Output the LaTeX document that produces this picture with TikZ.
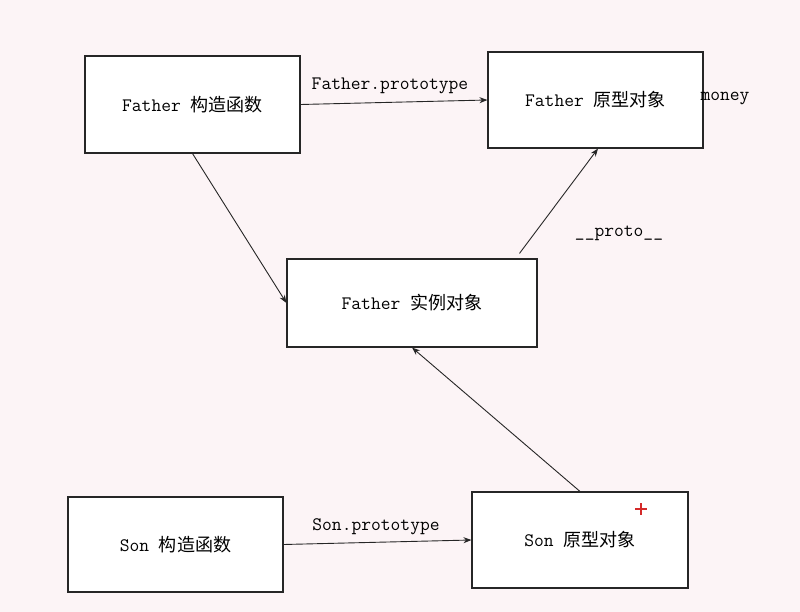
\documentclass[tikz,border=0pt]{standalone}
\usepackage{fontspec}
\newfontfamily\cjk{Noto Sans CJK SC}[Scale=0.95]
\usetikzlibrary{arrows.meta,calc}
\definecolor{paper}{HTML}{FCF4F6}
\definecolor{plusred}{HTML}{D42A2A}
\tikzset{
  box/.style={draw=black!85, line width=1.1pt, fill=white, inner sep=0pt,
    font=\ttfamily\fontsize{19}{23}\selectfont},
  link/.style={draw=black!85, line width=0.9pt, -{Stealth[length=8pt,width=6pt]}},
  tag/.style={font=\ttfamily\fontsize{19}{23}\selectfont, inner sep=0pt}
}
\begin{document}
\begin{tikzpicture}[x=1pt,y=-1pt]
  \fill[paper] (0,0) rectangle (800,612);
  \useasboundingbox (0,0) rectangle (800,612);

  % boxes
  \node[box, minimum width=215pt, minimum height=97pt] (fc) at (192.5,104.5) {Father {\cjk 构造函数}};
  \node[box, minimum width=215pt, minimum height=96pt] (fp) at (595.5,100) {Father {\cjk 原型对象}};
  \node[box, minimum width=250pt, minimum height=88pt] (fi) at (412,303) {Father {\cjk 实例对象}};
  \node[box, minimum width=215pt, minimum height=95pt] (sc) at (175.5,544.5) {Son {\cjk 构造函数}};
  \node[box, minimum width=216pt, minimum height=96pt] (sp) at (580,540) {Son {\cjk 原型对象}};

  % connectors
  \draw[link] (fc.east) -- (fp.west);
  \draw[link] (fc.south) -- (fi.west);
  \coordinate (fiTop) at ($(fi.north west)!0.928!(fi.north east)+(0,-5)$);
  \coordinate (fpBot) at ($(fp.south)+(2.5,0)$);
  \draw[link] (fiTop) -- (fpBot);
  \draw[link] (sp.north) -- (fi.south);
  \draw[link] (sc.east) -- (sp.west);

  % labels
  \node[tag] (lfp) at (390,86) {Father.prototype};
  \node[tag] (lproto) at (619,233) {\_\_proto\_\_};
  \node[tag] (lmoney) at (725,98) {money};
  \node[tag] (lsp) at (376,527) {Son.prototype};

  % red plus
  \draw[plusred, line width=2pt] (635,509) -- (647,509) (641,503) -- (641,515);
\end{tikzpicture}
\end{document}
